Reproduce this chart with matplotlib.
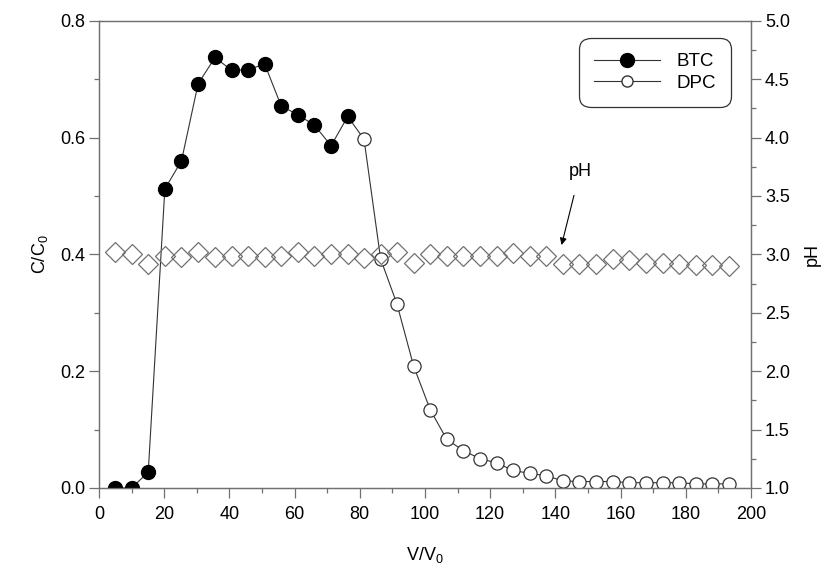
import numpy as np
import matplotlib
matplotlib.use("Agg")
import matplotlib.pyplot as plt
from matplotlib.lines import Line2D

plt.rcParams['font.family'] = ['Liberation Sans', 'DejaVu Sans']
plt.rcParams['mathtext.default'] = 'regular'

# V/V0 grid shared by all series
v = [5.0, 10.0, 15.1, 20.2, 25.3, 30.4, 35.6, 40.7, 45.8, 50.8, 55.9, 61.0, 66.1,
     71.2, 76.3, 81.3, 86.4, 91.4, 96.5, 101.6, 106.7, 111.8, 116.9, 122.0, 127.0,
     132.1, 137.2, 142.3, 147.4, 152.5, 157.6, 162.7, 167.8, 172.9, 178.0, 183.1,
     188.2, 193.3]

btc = [0.0, 0.0, 0.027, 0.512, 0.560, 0.692, 0.737, 0.715, 0.716, 0.726, 0.654,
       0.639, 0.621, 0.586, 0.636]

dpc = [0.597, 0.392, 0.315, 0.209, 0.134, 0.083, 0.064, 0.050, 0.043, 0.030, 0.025,
       0.021, 0.012, 0.011, 0.011, 0.011, 0.009, 0.009, 0.009, 0.009, 0.007, 0.007,
       0.007]

ph = [3.02, 3.00, 2.92, 2.99, 2.98, 3.02, 2.98, 2.99, 2.99, 2.98, 2.99, 3.02, 2.99,
      3.00, 3.00, 2.97, 3.00, 3.02, 2.93, 3.00, 2.99, 2.99, 2.99, 2.99, 3.01, 2.99,
      2.99, 2.92, 2.92, 2.92, 2.96, 2.95, 2.93, 2.93, 2.92, 2.91, 2.91, 2.90]

v_btc = v[:len(btc)]
v_dpc = v[len(btc):]

line_col = '#333333'
axis_col = '#707070'
fs = 13

fig = plt.figure(figsize=(8.32, 5.83), dpi=100)
ax = fig.add_axes([0.119, 0.163, 0.7836, 0.8015])
ax2 = ax.twinx()

# concentration lines (behind markers)
ax.plot(v_btc + v_dpc, btc + dpc, '-', color=line_col, lw=0.8, zorder=2)
# white discs so lines do not show inside open circles
ax.plot(v_dpc, dpc, 'o', ms=9.5, mfc='white', mec='none', zorder=3)
ax.plot(v_dpc, dpc, 'o', ms=9.5, mfc='none', mec=line_col, mew=0.9, zorder=4)
ax.plot(v_btc, btc, 'o', ms=10, mfc='black', mec='black', zorder=5)

# pH diamonds on right axis
ax2.plot(v, ph, 'D', ms=10.5, mfc='none', mec='#707070', mew=0.9)

ax.set_xlim(0, 200)
ax.set_ylim(0, 0.8)
ax2.set_ylim(1.0, 5.0)

ax.set_xticks(np.arange(0, 201, 20))
ax.set_xticks(np.arange(0, 201, 10), minor=True)
ax.set_yticks(np.arange(0, 0.81, 0.2))
ax.set_yticks(np.arange(0, 0.81, 0.1), minor=True)
ax.yaxis.set_major_formatter(matplotlib.ticker.FormatStrFormatter('%.1f'))
ax2.set_yticks(np.arange(1.0, 5.01, 0.5))
ax2.set_yticks(np.arange(1.0, 5.01, 0.25), minor=True)
ax2.yaxis.set_major_formatter(matplotlib.ticker.FormatStrFormatter('%.1f'))

for a in (ax, ax2):
    for s in a.spines.values():
        s.set_color(axis_col)
        s.set_linewidth(0.9)
    a.tick_params(which='major', length=7, width=0.9, color=axis_col, labelsize=fs, pad=3)
    a.tick_params(which='minor', length=3.5, width=0.9, color=axis_col)
ax.tick_params(axis='x', pad=6)

ax.set_xlabel('V/V$_0$', fontsize=fs, labelpad=16)
ax.set_ylabel('C/C$_0$', fontsize=fs, labelpad=7)
ax2.set_ylabel('pH', fontsize=fs, labelpad=10)

ax.annotate('pH', xy=(141.9, 0.416), xytext=(147.5, 0.541), fontsize=fs,
            ha='center', va='center',
            arrowprops=dict(arrowstyle='-|>', color='black', lw=0.8,
                            mutation_scale=10, shrinkA=9, shrinkB=0))

handles = [Line2D([], [], color=line_col, lw=0.8, marker='o', ms=10, mfc='black', mec='black'),
           Line2D([], [], color=line_col, lw=0.8, marker='o', ms=8, mfc='white', mec=line_col)]
leg = ax.legend(handles, ['BTC', 'DPC'], loc='upper right', bbox_to_anchor=(0.97, 0.963),
                fontsize=13.5, frameon=True, fancybox=True, handlelength=3.5,
                borderpad=0.6, labelspacing=0.25, handletextpad=0.9, borderaxespad=0.2)
leg.get_frame().set_edgecolor('black')
leg.get_frame().set_linewidth(0.9)
leg.get_frame().set_boxstyle('round', pad=0.2, rounding_size=0.6)
leg.set_zorder(10)

fig.savefig('out.png', dpi=100)
